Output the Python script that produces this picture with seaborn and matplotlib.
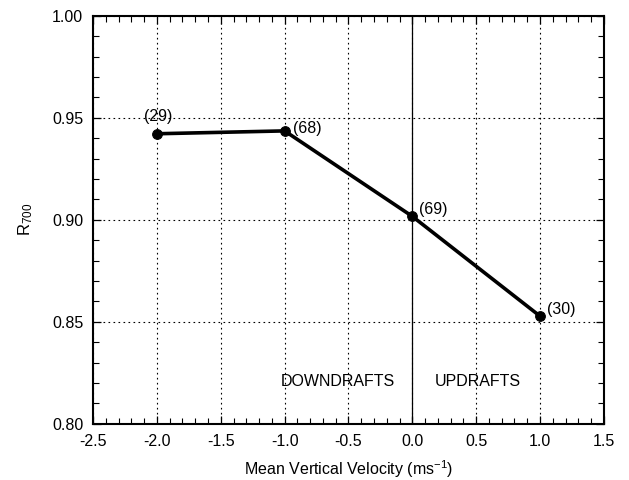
import matplotlib
matplotlib.use("Agg")
import matplotlib.pyplot as plt
from matplotlib.ticker import MultipleLocator
import pandas as pd
import seaborn as sns

# values
velocity = [-2.0, -1.0, 0.0, 1.0]
r700 = [0.9422, 0.9436, 0.9017, 0.8528]
counts = ["(29)", "(68)", "(69)", "(30)"]

sns.set_style("ticks")
plt.rcParams['font.family'] = ['Liberation Sans', 'DejaVu Sans']
plt.rcParams['mathtext.default'] = 'regular'
for k in ['text.color', 'axes.labelcolor', 'xtick.color', 'ytick.color', 'axes.edgecolor']:
    plt.rcParams[k] = 'black'

df = pd.DataFrame({'velocity': velocity, 'r700': r700})

fig = plt.figure(figsize=(6.29, 4.8), dpi=100)
ax = fig.add_axes([0.148, 0.117, 0.812, 0.85])

# grid and zero line
ax.grid(True, which='major', linestyle=(0, (1.5, 3)), color='black', linewidth=0.8)
ax.axvline(0, color='black', linewidth=0.9, zorder=1)

sns.lineplot(data=df, x='velocity', y='r700', ax=ax, color='black', linewidth=2.6,
             marker='o', markersize=7, markeredgecolor='black', zorder=3)

# sample counts next to points (offsets in points)
offsets = [(1, 7, 'center', 'bottom'), (6, 2, 'left', 'center'),
           (5, 5, 'left', 'center'), (5, 5, 'left', 'center')]
for i, (dx, dy, ha, va) in enumerate(offsets):
    ax.annotate(counts[i], (velocity[i], r700[i]), xytext=(dx, dy), textcoords='offset points',
                ha=ha, va=va, fontsize=11.5)

ax.text(-0.58, 0.821, "DOWNDRAFTS", ha='center', va='center', fontsize=11.5)
ax.text(0.51, 0.821, "UPDRAFTS", ha='center', va='center', fontsize=11.5)

ax.set_xlim(-2.5, 1.5)
ax.set_ylim(0.80, 1.00)
ax.xaxis.set_major_locator(MultipleLocator(0.5))
ax.xaxis.set_minor_locator(MultipleLocator(0.1))
ax.yaxis.set_major_locator(MultipleLocator(0.05))
ax.yaxis.set_minor_locator(MultipleLocator(0.01))
ax.xaxis.set_major_formatter(lambda v, p: f"{v:.1f}")
ax.yaxis.set_major_formatter(lambda v, p: f"{v:.2f}")
ax.tick_params(which='both', direction='in', top=True, right=True, labelsize=11.5, color='black')
ax.tick_params(which='major', length=6, width=0.9, pad=7)
ax.tick_params(which='minor', length=4, width=0.8)
for s in ax.spines.values():
    s.set_linewidth(1.5)
    s.set_color('black')

ax.set_xlabel('Mean Vertical Velocity (ms$^{-1}$)', fontsize=11.5, labelpad=7)
ax.set_ylabel('R$_{700}$', fontsize=12, labelpad=12)

fig.savefig('out.png', dpi=100)
